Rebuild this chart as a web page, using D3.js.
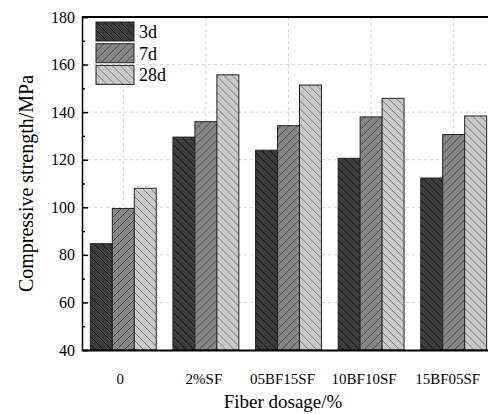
<!DOCTYPE html>
<html>
<head>
<meta charset="utf-8">
<script src="https://cdn.jsdelivr.net/npm/d3@7"></script>
<style>
  body { margin: 0; background: #fff; }
  text { font-family: "Liberation Serif", "Times New Roman", serif; fill: #000; }
</style>
</head>
<body>
<script>
// data
const categories = ['0', '2%SF', '05BF15SF', '10BF10SF', '15BF05SF']
const seriesNames = ['3d', '7d', '28d']
const values3d = [84.7, 129.5, 124.0, 120.6, 112.3]
const values7d = [99.5, 136.0, 134.3, 138.0, 130.6]
const values28d = [108.0, 155.7, 151.4, 145.8, 138.4]
const yTicks = [40, 60, 80, 100, 120, 140, 160, 180]

const allValues = [values3d, values7d, values28d]

let width = 488
let height = 414
let margin = { top: 17, bottom: 64, left: 82, right: -7 }

const svg = d3.select('body')
  .append('svg')
  .attr('width', width)
  .attr('height', height)

// hatch patterns
const defs = svg.append('defs')
const patterns = [
  { id: 'h3', fill: '#3d3d3d', line: '#111', dir: '\\' },
  { id: 'h7', fill: '#878787', line: '#4a4a4a', dir: '/' },
  { id: 'h28', fill: '#c9c9c9', line: '#7a7a7a', dir: '\\' }
]
patterns.forEach(p => {
  const pat = defs.append('pattern')
    .attr('id', p.id)
    .attr('patternUnits', 'userSpaceOnUse')
    .attr('width', 8)
    .attr('height', 8)
  pat.append('rect').attr('width', 8).attr('height', 8).attr('fill', p.fill)
  const d = p.dir === '/'
    ? 'M-2,2 L2,-2 M0,8 L8,0 M6,10 L10,6'
    : 'M-2,6 L2,10 M0,0 L8,8 M6,-2 L10,2'
  pat.append('path').attr('d', d).attr('stroke', p.line).attr('stroke-width', 1)
})

const x = d3.scaleBand()
  .domain(categories)
  .range([margin.left, width - margin.right])

const xSub = d3.scaleBand()
  .domain(seriesNames)
  .range([0, x.bandwidth()])
  .paddingOuter(0.38)

const y = d3.scaleLinear()
  .domain([40, 180])
  .range([height - margin.bottom, margin.top])

// grid
svg.append('g')
  .selectAll('line')
  .data(yTicks.slice(1, -1))
  .enter()
  .append('line')
  .attr('x1', margin.left)
  .attr('x2', width - margin.right)
  .attr('y1', d => y(d))
  .attr('y2', d => y(d))
  .attr('stroke', '#cfcfcf')
  .attr('stroke-dasharray', '3,3')

svg.append('g')
  .selectAll('line')
  .data(categories)
  .enter()
  .append('line')
  .attr('x1', d => x(d) + x.bandwidth() / 2)
  .attr('x2', d => x(d) + x.bandwidth() / 2)
  .attr('y1', y(180))
  .attr('y2', y(40))
  .attr('stroke', '#cfcfcf')
  .attr('stroke-dasharray', '3,3')

// bars
const groups = svg.append('g')
  .selectAll('g')
  .data(categories)
  .enter()
  .append('g')
  .attr('transform', d => `translate(${x(d)},0)`)

groups.selectAll('rect')
  .data((d, i) => seriesNames.map((s, j) => ({ s: s, v: allValues[j][i], j: j })))
  .enter()
  .append('rect')
  .attr('x', d => xSub(d.s))
  .attr('y', d => y(d.v))
  .attr('width', xSub.bandwidth())
  .attr('height', d => y(40) - y(d.v))
  .attr('fill', d => `url(#${patterns[d.j].id})`)
  .attr('stroke', '#222')
  .attr('stroke-width', 1)

// axes
const yAxis = svg.append('g')
  .attr('transform', `translate(${margin.left},0)`)
  .call(d3.axisLeft(y).tickValues(yTicks).tickSize(-6).tickPadding(7).tickFormat(d3.format('d')))
yAxis.select('.domain').attr('stroke-width', 1.5)
yAxis.selectAll('.tick line').attr('stroke-width', 1.5)
yAxis.selectAll('text').style('font-size', '16px').style('font-family', '"Liberation Serif", serif')

svg.append('g')
  .attr('transform', `translate(${margin.left},0)`)
  .call(d3.axisLeft(y).tickValues(d3.range(50, 180, 20)).tickSize(-3).tickFormat(''))
  .call(g => g.select('.domain').remove())
  .selectAll('.tick line').attr('stroke-width', 1.5)

// labels sit a little left of the group centres in the original
const labelShift = [-3, -2, -6, -7, -6]
const xAxis = svg.append('g')
  .attr('transform', `translate(0,${height - margin.bottom})`)
  .call(d3.axisBottom(x).tickSize(0).tickPadding(23))
xAxis.select('.domain').attr('stroke-width', 2)
xAxis.selectAll('text')
  .attr('dx', (d, i) => labelShift[i])
  .style('font-size', '15px')
  .style('font-family', '"Liberation Serif", serif')

// top border
svg.append('line')
  .attr('x1', margin.left)
  .attr('x2', width)
  .attr('y1', margin.top)
  .attr('y2', margin.top)
  .attr('stroke', '#000')
  .attr('stroke-width', 2)

// titles
svg.append('text')
  .attr('x', 283)
  .attr('y', 408)
  .attr('text-anchor', 'middle')
  .style('font-size', '19px')
  .text('Fiber dosage/%')

svg.append('text')
  .attr('transform', `translate(33,${(y(40) + y(180)) / 2}) rotate(-90)`)
  .attr('text-anchor', 'middle')
  .style('font-size', '20px')
  .text('Compressive strength/MPa')

// legend
const legend = svg.append('g')
  .selectAll('g')
  .data(seriesNames)
  .enter()
  .append('g')
  .attr('transform', (d, i) => `translate(96,${22 + i * 21.7})`)

legend.append('rect')
  .attr('width', 38)
  .attr('height', 19)
  .attr('fill', (d, i) => `url(#${patterns[i].id})`)
  .attr('stroke', '#222')

legend.append('text')
  .attr('x', 43)
  .attr('y', 16)
  .style('font-size', '18px')
  .text(d => d)
</script>
</body>
</html>
